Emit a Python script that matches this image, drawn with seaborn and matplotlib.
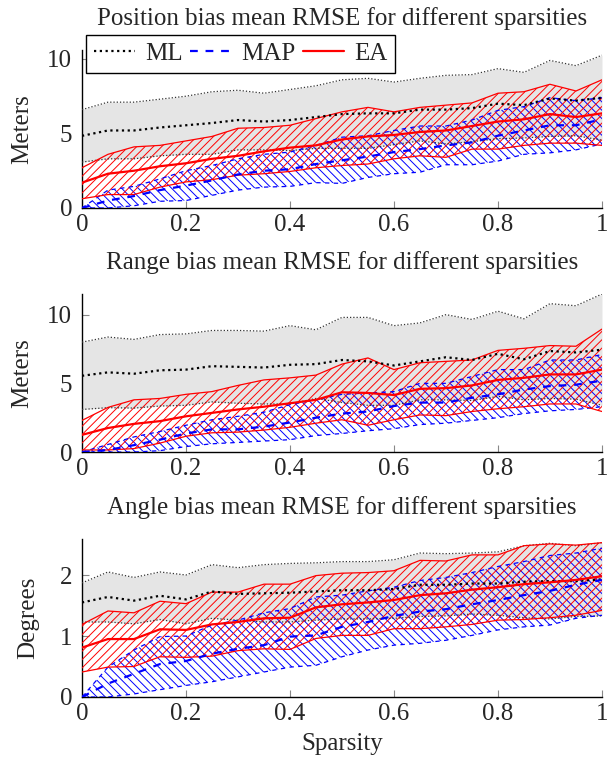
import matplotlib
matplotlib.use("Agg")
import matplotlib.pyplot as plt
import seaborn as sns

# sparsity levels
sparsity = [0, 0.05, 0.1, 0.15, 0.2, 0.25, 0.3, 0.35, 0.4, 0.45, 0.5,
            0.55, 0.6, 0.65, 0.7, 0.75, 0.8, 0.85, 0.9, 0.95, 1.0]

# position bias RMSE (meters)
pos_ml_mean = [4.84, 5.2, 5.2, 5.4, 5.55, 5.7, 5.9, 5.8, 5.9, 6.1, 6.3, 6.35, 6.35, 6.6, 6.6, 6.7, 7.0, 6.9, 7.35, 7.2, 7.4]
pos_ml_hi = [6.6, 7.1, 7.1, 7.3, 7.5, 7.8, 7.9, 7.7, 7.95, 8.2, 8.6, 8.7, 8.45, 8.7, 8.9, 8.95, 9.35, 9.1, 9.9, 9.55, 10.25]
pos_ml_lo = [3.08, 3.3, 3.3, 3.5, 3.6, 3.6, 3.9, 3.9, 3.85, 4.0, 4.0, 4.0, 4.25, 4.5, 4.3, 4.45, 4.65, 4.7, 4.8, 4.85, 4.55]
pos_map_mean = [0, 0.5, 0.8, 1.2, 1.5, 1.85, 2.25, 2.5, 2.6, 2.95, 3.2, 3.45, 3.75, 3.95, 4.2, 4.4, 4.85, 5.2, 5.55, 5.55, 5.95]
pos_map_hi = [0, 1.2, 1.45, 1.95, 2.5, 2.85, 3.3, 3.6, 3.75, 4.2, 4.75, 4.85, 5.2, 5.5, 5.5, 5.9, 6.55, 6.8, 7.4, 7.2, 7.4]
pos_map_lo = [0, 0, 0.15, 0.45, 0.5, 0.85, 1.2, 1.4, 1.45, 1.7, 1.65, 2.05, 2.3, 2.4, 2.9, 2.9, 3.15, 3.6, 3.7, 3.9, 4.3]
pos_ea_mean = [1.7, 2.3, 2.5, 2.8, 3.0, 3.3, 3.5, 3.8, 4.05, 4.2, 4.6, 4.8, 4.9, 5.1, 5.2, 5.5, 5.8, 5.95, 6.3, 6.1, 6.35]
pos_ea_hi = [2.7, 3.6, 4.1, 4.2, 4.5, 4.8, 5.35, 5.4, 5.55, 6.0, 6.45, 6.75, 6.45, 6.75, 6.9, 7.05, 7.7, 7.8, 8.3, 7.85, 8.6]
pos_ea_lo = [0.62, 0.9, 0.9, 1.4, 1.75, 1.9, 2.2, 2.3, 2.45, 2.7, 2.85, 2.95, 3.3, 3.5, 3.4, 3.95, 3.95, 4.2, 4.35, 4.35, 4.2]

# range bias RMSE (meters)
rng_ml_mean = [5.55, 5.8, 5.7, 5.95, 6.0, 6.25, 6.2, 6.15, 6.35, 6.4, 6.7, 6.6, 6.3, 6.6, 6.9, 6.7, 7.15, 6.75, 7.35, 7.25, 7.45]
rng_ml_hi = [8.0, 8.37, 8.2, 8.55, 8.6, 8.85, 8.85, 8.8, 9.2, 8.9, 9.8, 9.8, 9.2, 9.4, 10.0, 9.65, 10.25, 9.7, 10.8, 10.65, 11.5]
rng_ml_lo = [3.1, 3.23, 3.2, 3.35, 3.4, 3.65, 3.55, 3.5, 3.5, 3.9, 3.6, 3.4, 3.4, 3.8, 3.8, 3.75, 4.05, 3.8, 3.9, 3.85, 3.4]
rng_map_mean = [0, 0.15, 0.5, 0.9, 1.35, 1.65, 1.65, 1.85, 2.15, 2.5, 2.8, 2.95, 3.35, 3.6, 3.6, 3.95, 4.2, 4.55, 4.8, 4.9, 5.2]
rng_map_hi = [0, 0.55, 1.1, 1.5, 1.95, 2.35, 2.6, 2.9, 3.45, 3.8, 4.2, 4.3, 4.4, 5.0, 5.0, 5.5, 6.0, 6.0, 6.7, 6.7, 7.1]
rng_map_lo = [0, 0, 0, 0.1, 0.4, 0.6, 0.7, 0.8, 0.9, 1.2, 1.35, 1.55, 1.7, 2.0, 2.1, 2.3, 2.5, 2.8, 3.0, 3.1, 3.3]
rng_ea_mean = [1.25, 1.75, 2.05, 2.25, 2.6, 2.85, 3.1, 3.3, 3.55, 3.8, 4.35, 4.3, 4.15, 4.6, 4.65, 4.85, 5.25, 5.4, 5.65, 5.65, 6.0]
rng_ea_hi = [2.3, 3.25, 3.8, 3.9, 4.2, 4.4, 4.85, 5.25, 5.4, 5.6, 6.4, 6.85, 6.0, 6.5, 6.6, 6.7, 7.4, 7.55, 7.75, 7.7, 8.95]
rng_ea_lo = [0.15, 0.15, 0.25, 0.65, 1.15, 1.4, 1.45, 1.6, 1.8, 2.1, 2.35, 1.95, 2.35, 2.7, 2.65, 2.95, 3.15, 3.3, 3.5, 3.5, 2.95]

# angle bias RMSE (degrees)
ang_ml_mean = [1.55, 1.64, 1.58, 1.66, 1.6, 1.73, 1.69, 1.7, 1.71, 1.73, 1.75, 1.75, 1.77, 1.84, 1.84, 1.86, 1.86, 1.89, 1.9, 1.9, 1.93]
ang_ml_hi = [1.87, 2.05, 1.96, 2.05, 2.0, 2.17, 2.12, 2.17, 2.19, 2.2, 2.22, 2.22, 2.25, 2.36, 2.35, 2.36, 2.38, 2.48, 2.52, 2.48, 2.53]
ang_ml_lo = [1.23, 1.23, 1.2, 1.27, 1.2, 1.29, 1.26, 1.23, 1.23, 1.26, 1.28, 1.28, 1.29, 1.32, 1.33, 1.36, 1.34, 1.3, 1.28, 1.32, 1.33]
ang_map_mean = [0, 0.22, 0.38, 0.54, 0.59, 0.71, 0.79, 0.85, 0.99, 1.01, 1.15, 1.23, 1.33, 1.4, 1.44, 1.52, 1.59, 1.67, 1.74, 1.84, 1.92]
ang_map_hi = [0, 0.49, 0.77, 0.99, 1.0, 1.18, 1.26, 1.38, 1.45, 1.64, 1.67, 1.74, 1.8, 1.91, 1.96, 2.04, 2.14, 2.22, 2.32, 2.36, 2.44]
ang_map_lo = [0, 0, 0.05, 0.12, 0.19, 0.25, 0.33, 0.41, 0.49, 0.52, 0.66, 0.77, 0.85, 0.88, 0.93, 1.01, 1.1, 1.15, 1.18, 1.29, 1.34]
ang_ea_mean = [0.81, 0.95, 0.95, 1.11, 1.1, 1.19, 1.23, 1.29, 1.3, 1.47, 1.52, 1.55, 1.59, 1.67, 1.7, 1.76, 1.8, 1.85, 1.88, 1.92, 1.98]
ang_ea_hi = [1.19, 1.41, 1.38, 1.57, 1.53, 1.72, 1.72, 1.85, 1.85, 1.99, 2.03, 2.04, 2.07, 2.24, 2.23, 2.33, 2.33, 2.48, 2.51, 2.49, 2.53]
ang_ea_lo = [0.41, 0.49, 0.5, 0.66, 0.65, 0.67, 0.76, 0.79, 0.78, 0.96, 1.01, 1.01, 1.12, 1.12, 1.15, 1.19, 1.26, 1.27, 1.3, 1.34, 1.42]

titles = ["Position bias mean RMSE for different sparsities",
          "Range bias mean RMSE for different sparsities",
          "Angle bias mean RMSE for different sparsities"]
ylabels = ["Meters", "Meters", "Degrees"]
yticks = [[0, 5, 10], [0, 5, 10], [0, 1, 2]]
ytops = [10.6, 11.5, 2.59]
xticks = [0, 0.2, 0.4, 0.6, 0.8, 1.0]
xticklabels = ["0", "0.2", "0.4", "0.6", "0.8", "1"]

DOT = (0, (1, 1.6))
DASH = (0, (3.5, 3.5))
FS = 18


def draw_panel(ax, ml, mp, ea):
    ml_mean, ml_lo, ml_hi = ml
    map_mean, map_lo, map_hi = mp
    ea_mean, ea_lo, ea_hi = ea

    ax.fill_between(sparsity, ml_lo, ml_hi, color="#e5e5e5", lw=0, zorder=1)
    ax.fill_between(sparsity, map_lo, map_hi, facecolor="none", edgecolor="blue",
                    hatch="\\\\\\\\", lw=0, zorder=2)
    ax.fill_between(sparsity, ea_lo, ea_hi, facecolor="none", edgecolor="red",
                    hatch="////", lw=0, zorder=3)

    for b in (ml_lo, ml_hi):
        sns.lineplot(x=sparsity, y=b, ax=ax, color="#333333", lw=0.9, linestyle=DOT, zorder=4)
    for b in (map_lo, map_hi):
        sns.lineplot(x=sparsity, y=b, ax=ax, color="blue", lw=0.9, linestyle=DASH, zorder=4)
    for b in (ea_lo, ea_hi):
        sns.lineplot(x=sparsity, y=b, ax=ax, color="red", lw=0.9, zorder=4)

    sns.lineplot(x=sparsity, y=ml_mean, ax=ax, color="black", lw=1.6, linestyle=DOT, zorder=5, label="ML")
    sns.lineplot(x=sparsity, y=map_mean, ax=ax, color="blue", lw=1.6, linestyle=DASH, zorder=5, label="MAP")
    sns.lineplot(x=sparsity, y=ea_mean, ax=ax, color="red", lw=1.6, zorder=5, label="EA")


def main():
    sns.set_theme(style="ticks")
    plt.rcParams["font.family"] = ["Liberation Serif", "DejaVu Serif"]
    plt.rcParams["hatch.linewidth"] = 0.7

    fig = plt.figure(figsize=(6.15, 7.61), dpi=100)
    bottoms = [0.7267, 0.406, 0.0841]
    axes = [fig.add_axes([0.1333, b, 0.8455, 0.2076]) for b in bottoms]

    data = [
        ((pos_ml_mean, pos_ml_lo, pos_ml_hi), (pos_map_mean, pos_map_lo, pos_map_hi), (pos_ea_mean, pos_ea_lo, pos_ea_hi)),
        ((rng_ml_mean, rng_ml_lo, rng_ml_hi), (rng_map_mean, rng_map_lo, rng_map_hi), (rng_ea_mean, rng_ea_lo, rng_ea_hi)),
        ((ang_ml_mean, ang_ml_lo, ang_ml_hi), (ang_map_mean, ang_map_lo, ang_map_hi), (ang_ea_mean, ang_ea_lo, ang_ea_hi)),
    ]

    for i, ax in enumerate(axes):
        draw_panel(ax, *data[i])
        ax.set_xlim(0, 1)
        ax.set_ylim(0, ytops[i])
        ax.set_xticks(xticks)
        ax.set_xticklabels(xticklabels)
        ax.set_yticks(yticks[i])
        ax.tick_params(direction="in", length=5, width=0.8, color="#888888",
                       labelsize=FS, pad=7)
        ax.tick_params(axis="x", pad=4)
        for s in ("top", "right"):
            ax.spines[s].set_visible(False)
        for s in ("left", "bottom"):
            ax.spines[s].set_color("black")
            ax.spines[s].set_linewidth(1.0)
        ax.set_title(titles[i], fontsize=FS, pad=18)
        ax.set_ylabel(ylabels[i], fontsize=FS)
        ax.yaxis.set_label_coords(-0.094 if i < 2 else -0.083, 0.5)
        ax.set_xlabel("")
        if ax.get_legend() is not None:
            ax.get_legend().remove()

    h, l = axes[0].get_legend_handles_labels()
    leg = axes[0].legend(h[-3:], l[-3:], loc="upper left", bbox_to_anchor=(0.008, 1.094),
                         ncol=3, fontsize=FS, frameon=True, fancybox=False, framealpha=1,
                         edgecolor="black", borderaxespad=0, handlelength=1.65,
                         handletextpad=0.4, columnspacing=0.3, borderpad=0.3)
    leg.get_frame().set_linewidth(1.0)
    leg.set_zorder(10)

    axes[2].set_xlabel("Sparsity", fontsize=FS, labelpad=6)

    fig.savefig("out.png", dpi=100)
    plt.close(fig)


if __name__ == "__main__":
    main()
